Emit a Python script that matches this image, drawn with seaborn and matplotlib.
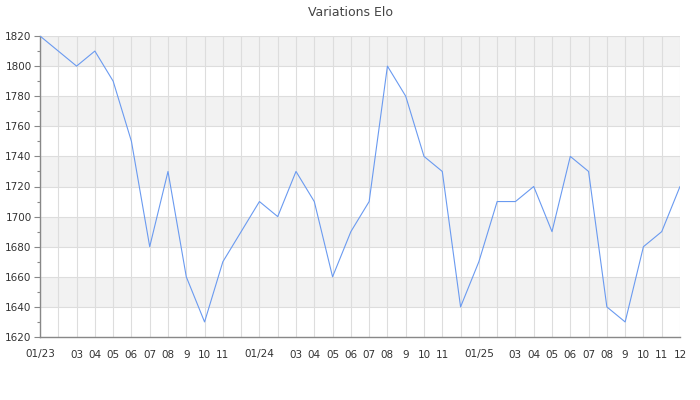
import matplotlib
matplotlib.use("Agg")
import matplotlib.pyplot as plt
import seaborn as sns
import pandas as pd
import numpy as np

months = ["01/23", "02/23", "03/23", "04/23", "05/23", "06/23", "07/23", "08/23", "09/23", "10/23", "11/23", "12/23",
          "01/24", "02/24", "03/24", "04/24", "05/24", "06/24", "07/24", "08/24", "09/24", "10/24", "11/24", "12/24",
          "01/25", "02/25", "03/25", "04/25", "05/25", "06/25", "07/25", "08/25", "09/25", "10/25", "11/25", "12/25"]
elo = [1820, 1810, 1800, 1810, 1790, 1750, 1680, 1730, 1660, 1630, 1670, 1690,
       1710, 1700, 1730, 1710, 1660, 1690, 1710, 1800, 1780, 1740, 1730, 1640,
       1670, 1710, 1710, 1720, 1690, 1740, 1730, 1640, 1630, 1680, 1690, 1720]
tick_labels = ["01/23", "", "03", "04", "05", "06", "07", "08", "9", "10", "11", "",
               "01/24", "", "03", "04", "05", "06", "07", "08", "9", "10", "11", "",
               "01/25", "", "03", "04", "05", "06", "07", "08", "9", "10", "11", "12"]

df = pd.DataFrame({"idx": np.arange(len(months)), "month": months, "elo": elo})

sns.set_theme(style="white")
plt.rcParams['font.family'] = ['DejaVu Sans']

fig = plt.figure(figsize=(7, 4), dpi=100)
ax = fig.add_axes([40/700, 1 - 337/400, 640/700, 301/400])

# alternating bands
for lo in range(1640, 1820, 40):
    ax.axhspan(lo, lo + 20, color="#f2f2f2", zorder=0, lw=0)

sns.lineplot(data=df, x="idx", y="elo", ax=ax, color="#6a9af0", linewidth=0.8, zorder=3)

ax.set_xlim(0, len(months) - 1)
ax.set_ylim(1620, 1820)
ax.set_xticks(df["idx"])
ax.set_xticklabels(tick_labels)
ax.set_yticks(np.arange(1620, 1821, 20))
ax.set_yticks(np.arange(1630, 1820, 20), minor=True)

ax.grid(True, which="major", color="#dddddd", linewidth=0.8, zorder=1)
ax.set_axisbelow(True)

for s in ["top", "right"]:
    ax.spines[s].set_visible(False)
for s in ["left", "bottom"]:
    ax.spines[s].set_color("#888888")
    ax.spines[s].set_linewidth(1.0)

ax.tick_params(axis="y", which="major", length=4, width=0.8, color="#888888", labelsize=7.5, labelcolor="#333333", pad=2, left=True)
ax.tick_params(axis="y", which="minor", length=2, width=0.8, color="#888888", left=True)
ax.tick_params(axis="x", which="major", length=0, labelsize=7.5, labelcolor="#333333", pad=9)

ax.set_xlabel("")
ax.set_ylabel("")
fig.text(0.5, 1 - 12/400, "Variations Elo", ha="center", va="center", fontsize=9, color="#444444")

fig.savefig("out.png", dpi=100)
